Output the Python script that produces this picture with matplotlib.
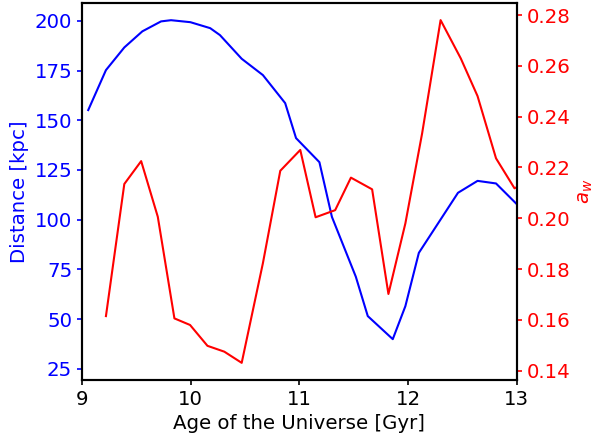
"""distância e a_w em função da idade do universo."""

import matplotlib.pyplot as plt

# distância (eixo esquerdo)
age_dist = [9.058, 9.221, 9.39, 9.556, 9.728, 9.82, 9.998, 10.18, 10.27, 10.47,
            10.665, 10.87, 10.97, 11.185, 11.30, 11.52, 11.63, 11.86, 11.976,
            12.10, 12.46, 12.64, 12.81, 13.01]
distance = [155.1, 175.2, 186.6, 194.7, 199.7, 200.3, 199.3, 196.3, 192.8, 180.9,
            172.7, 158.6, 141.0, 128.9, 101.4, 71.3, 51.5, 39.9, 56.5,
            83.3, 113.5, 119.5, 118.2, 107.3]

# a_w (eixo direito)
age_aw = [9.221, 9.39, 9.545, 9.698, 9.851, 9.995, 10.155, 10.31, 10.47, 10.665,
          10.825, 11.009, 11.15, 11.33, 11.475, 11.67, 11.82, 11.976, 12.13,
          12.30, 12.486, 12.64, 12.81, 12.98, 13.01]
a_w = [0.1615, 0.2135, 0.2225, 0.2006, 0.1606, 0.158, 0.1498, 0.1475, 0.1431, 0.1823,
       0.2187, 0.2269, 0.2004, 0.2032, 0.216, 0.2114, 0.1702, 0.198, 0.2334,
       0.278, 0.2629, 0.2481, 0.2236, 0.2118, 0.2124]

plt.rcParams["font.size"] = 14.2
plt.rcParams["axes.linewidth"] = 1.5
plt.rcParams["xtick.major.width"] = 1.2
plt.rcParams["ytick.major.width"] = 1.2

fig, ax = plt.subplots(figsize=(5.98, 4.42), dpi=100)
fig.subplots_adjust(left=0.137, right=0.864, top=0.993, bottom=0.140)

ax.plot(age_dist, distance, color="blue", linewidth=1.5)
ax.set_xlim(9, 13)
ax.set_ylim(19.3, 208.9)
ax.set_xticks([9, 10, 11, 12, 13])
ax.set_xlabel("Age of the Universe [Gyr]")
ax.set_ylabel("Distance [kpc]", color="blue")
ax.tick_params(axis="y", colors="blue")

ax2 = ax.twinx()
ax2.plot(age_aw, a_w, color="red", linewidth=1.5)
ax2.set_ylim(0.1363, 0.2847)
ax2.set_yticks([0.14, 0.16, 0.18, 0.20, 0.22, 0.24, 0.26, 0.28])
ax2.set_ylabel("$a_w$", color="red")
ax2.tick_params(axis="y", colors="red")

fig.savefig("out.png", dpi=100)
